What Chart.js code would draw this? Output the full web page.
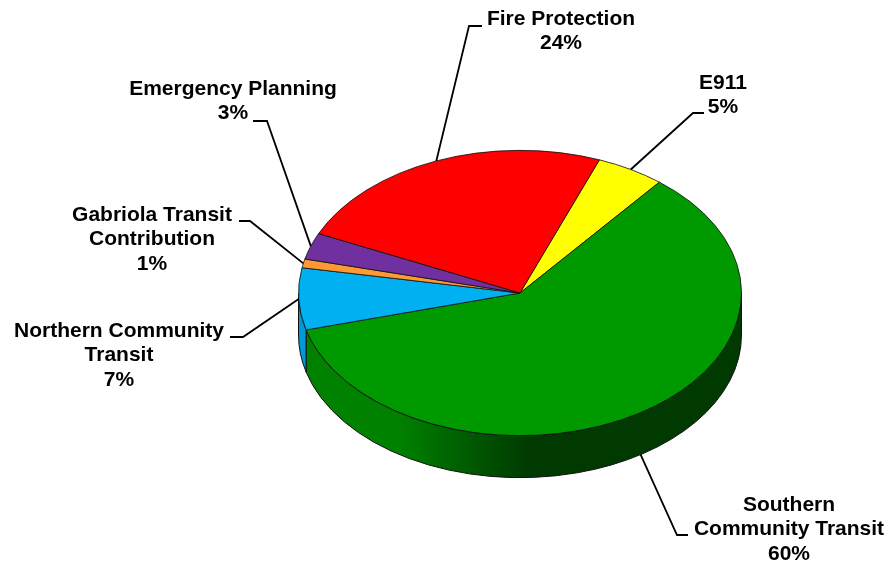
<!DOCTYPE html>
<html>
<head>
<meta charset="utf-8">
<script src="https://cdn.jsdelivr.net/npm/chart.js@4.4.0/dist/chart.umd.min.js"></script>
<style>
  html, body { margin: 0; padding: 0; background: #fff; }
</style>
</head>
<body>
<canvas id="budgetPie" width="892" height="563"></canvas>
<script>
// slice data, clockwise from the E911 wedge
var categories = ['E911', 'Southern Community Transit', 'Northern Community Transit',
    'Gabriola Transit Contribution', 'Emergency Planning', 'Fire Protection'];
var shares = [5, 60, 7, 1, 3, 24];
var labelLines = [
    ['E911'],
    ['Southern', 'Community Transit'],
    ['Northern Community', 'Transit'],
    ['Gabriola Transit', 'Contribution'],
    ['Emergency Planning'],
    ['Fire Protection']
];

var topColors = ['#ffff00', '#009900', '#00b0f0', '#ff9933', '#7030a0', '#ff0000'];
// side wall gradient: [left, right]
var sideColors = [
    ['#b5b500', '#6a6a00'],
    ['#008200', '#003a00'],
    ['#009ad6', '#005f85'],
    ['#d07a20', '#804a10'],
    ['#58207f', '#341250'],
    ['#c80000', '#700000']
];

// where each label and its leader line sit
var labelLayout = [
    { x: 723, y: 83, elbow: [693, 113], tick: 704 },
    { x: 789, y: 505, elbow: [677, 535], tick: 688 },
    { x: 119, y: 331, elbow: [243, 337], tick: 230 },
    { x: 152, y: 215, elbow: [250, 221], tick: 239 },
    { x: 233, y: 89, elbow: [267, 121], tick: 253 },
    { x: 561, y: 19, elbow: [469, 26], tick: 482 }
];

var squash = 0.644;   // vertical tilt of the pie
var depth = 42;       // thickness of the side wall
var lineGap = 24.5;

// pieces of [a0, a1] that face the viewer (lower half of the ellipse)
function frontRanges(a0, a1) {
    var out = [];
    for (var k = -1; k <= 1; k++) {
        var lo = Math.max(a0, k * 2 * Math.PI);
        var hi = Math.min(a1, k * 2 * Math.PI + Math.PI);
        if (hi > lo) out.push([lo, hi]);
    }
    return out;
}

var pie3d = {
    id: 'pie3d',
    beforeDatasetsDraw: function (chart) {
        var ctx = chart.ctx;
        var arcs = chart.getDatasetMeta(0).data;
        var cx = arcs[0].x, cy = arcs[0].y;
        var rx = arcs[0].outerRadius, ry = rx * squash;

        arcs.forEach(function (arc, i) {
            frontRanges(arc.startAngle, arc.endAngle).forEach(function (r) {
                ctx.beginPath();
                ctx.ellipse(cx, cy, rx, ry, 0, r[0], r[1]);
                ctx.ellipse(cx, cy + depth, rx, ry, 0, r[1], r[0], true);
                ctx.closePath();
                var g = ctx.createLinearGradient(cx - rx, 0, cx + rx, 0);
                g.addColorStop(0, sideColors[i][0]);
                g.addColorStop(0.22, sideColors[i][0]);
                g.addColorStop(0.52, sideColors[i][1]);
                g.addColorStop(1, sideColors[i][1]);
                ctx.fillStyle = g;
                ctx.fill();
                ctx.lineWidth = 1;
                ctx.strokeStyle = '#111';
                ctx.stroke();
            });
        });

        // flatten the top face into an ellipse
        ctx.save();
        ctx.translate(cx, cy);
        ctx.scale(1, squash);
        ctx.translate(-cx, -cy);
    },
    afterDatasetsDraw: function (chart) {
        var ctx = chart.ctx;
        ctx.restore();

        var arcs = chart.getDatasetMeta(0).data;
        var cx = arcs[0].x, cy = arcs[0].y;
        var rx = arcs[0].outerRadius, ry = rx * squash;

        ctx.save();
        ctx.font = 'bold 21px "Liberation Sans", Arial, sans-serif';
        ctx.textAlign = 'center';
        ctx.textBaseline = 'middle';
        ctx.fillStyle = '#000';
        ctx.strokeStyle = '#000';
        ctx.lineWidth = 1.8;

        arcs.forEach(function (arc, i) {
            var mid = (arc.startAngle + arc.endAngle) / 2;
            var ax = cx + rx * Math.cos(mid);
            var ay = cy + ry * Math.sin(mid);
            if (Math.sin(mid) > 0.5) ay += depth;
            var lay = labelLayout[i];

            ctx.beginPath();
            ctx.moveTo(ax, ay);
            ctx.lineTo(lay.elbow[0], lay.elbow[1]);
            ctx.lineTo(lay.tick, lay.elbow[1]);
            ctx.stroke();

            var lines = labelLines[i].concat([shares[i] + '%']);
            lines.forEach(function (t, j) {
                ctx.fillText(t, lay.x, lay.y + j * lineGap);
            });
        });
        ctx.restore();
    }
};

var ctx = document.getElementById('budgetPie');
var budgetChart = new Chart(ctx, {
    type: 'pie',
    data: {
        labels: categories,
        datasets: [{
            data: shares,
            backgroundColor: topColors,
            borderColor: '#111',
            borderWidth: 1
        }]
    },
    options: {
        responsive: false,
        devicePixelRatio: 1,
        animation: false,
        events: [],
        rotation: 21,
        layout: {
            padding: { left: 298, right: 150, top: 71, bottom: 48 }
        },
        plugins: {
            legend: { display: false },
            tooltip: { enabled: false }
        }
    },
    plugins: [pie3d]
});
</script>
</body>
</html>
